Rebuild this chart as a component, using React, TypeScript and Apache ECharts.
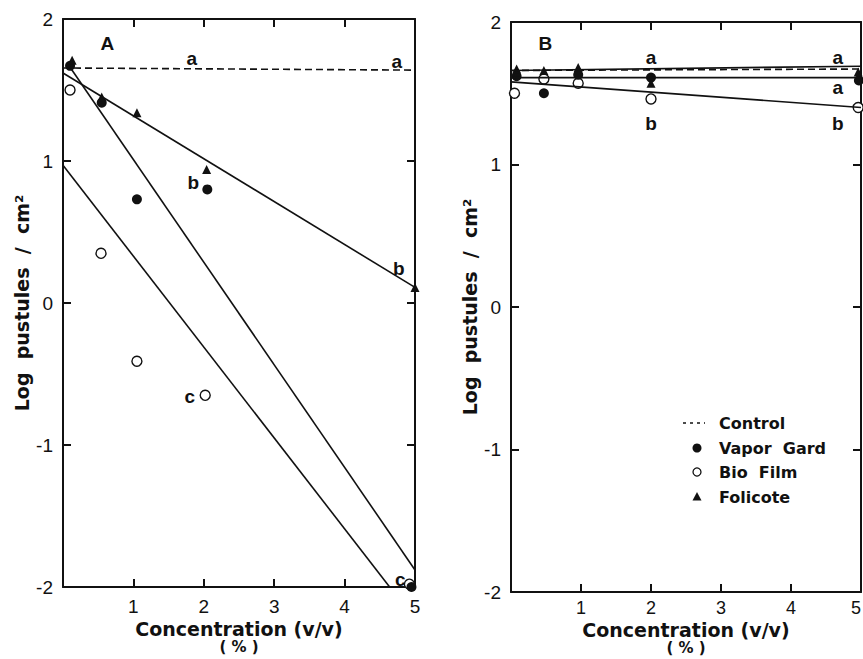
import React, { useEffect, useRef } from "react";
import * as echarts from "echarts";

// ---------- Panel A data ----------
const aVaporGard: [number, number][] = [[0.1, 1.67], [0.55, 1.41], [1.05, 0.73], [2.05, 0.8], [4.95, -2.0]];
const aBioFilm: [number, number][] = [[0.1, 1.5], [0.54, 0.35], [1.05, -0.41], [2.02, -0.65], [4.92, -1.98]];
const aFolicote: [number, number][] = [[0.13, 1.71], [0.55, 1.45], [1.05, 1.34], [2.04, 0.94], [5.0, 0.11]];
const aControlLine: [number, number][] = [[0, 1.655], [5, 1.64]];
const aVaporGardLine: [number, number][] = [[0.1, 1.66], [5, -1.88]];
const aBioFilmLine: [number, number][] = [[0, 0.97], [4.64, -2.0]];
const aFolicoteLine: [number, number][] = [[0, 1.62], [5, 0.11]];
const aLetters: [number, number, string][] = [
  [0.63, 1.83, "A"], [1.83, 1.72, "a"], [4.74, 1.7, "a"],
  [1.85, 0.85, "b"], [4.77, 0.24, "b"], [1.8, -0.66, "c"], [4.79, -1.95, "c"],
];

// ---------- Panel B data ----------
const bVaporGard: [number, number][] = [[0.08, 1.62], [0.47, 1.5], [0.96, 1.63], [2.0, 1.61], [4.97, 1.59]];
const bBioFilm: [number, number][] = [[0.05, 1.5], [0.47, 1.6], [0.96, 1.57], [2.0, 1.46], [4.96, 1.4]];
const bFolicote: [number, number][] = [[0.08, 1.67], [0.47, 1.66], [0.96, 1.68], [2.0, 1.57], [4.96, 1.65]];
const bControlLine: [number, number][] = [[0, 1.66], [5, 1.67]];
const bVaporGardLine: [number, number][] = [[0, 1.61], [5, 1.61]];
const bBioFilmLine: [number, number][] = [[0, 1.58], [5, 1.4]];
const bFolicoteLine: [number, number][] = [[0, 1.66], [5, 1.69]];
const bLetters: [number, number, string][] = [
  [0.49, 1.85, "B"], [2.0, 1.75, "a"], [2.0, 1.29, "b"],
  [4.67, 1.75, "a"], [4.67, 1.54, "a"], [4.67, 1.29, "b"],
];

const xTicks = [0, 5, 1];
const yTicks = [-2, 2, 1];
const legendNames = ["Control", "Vapor  Gard", "Bio  Film", "Folicote"];

const BLACK = "#111";
const NUM_FONT = "Liberation Sans";
const TXT_FONT = "DejaVu Sans";

function axesFor(gridIndex: number, alignLastRight: boolean, xNameGap: number, labelMargin: number, labelSize: number) {
  const common = {
    gridIndex,
    min: xTicks[0],
    max: xTicks[1],
    interval: xTicks[2],
    axisLine: { show: true, onZero: false, lineStyle: { color: BLACK, width: 2 } },
    axisTick: { show: true, inside: true, length: 8, lineStyle: { color: BLACK, width: 2 } },
    splitLine: { show: false },
  };
  const yCommon = {
    gridIndex,
    type: "value" as const,
    min: yTicks[0],
    max: yTicks[1],
    interval: yTicks[2],
    axisLine: { show: true, onZero: false, lineStyle: { color: BLACK, width: 2 } },
    axisTick: { show: true, inside: true, length: 8, lineStyle: { color: BLACK, width: 2 } },
    splitLine: { show: false },
  };
  return {
    x: [
      {
        ...common,
        type: "value" as const,
        position: "bottom",
        axisLabel: {
          margin: labelMargin,
          color: BLACK,
          fontFamily: NUM_FONT,
          fontSize: labelSize,
          alignMaxLabel: alignLastRight ? "right" : undefined,
          formatter: (v: number) => (v === 0 ? "" : String(v)),
        },
        name: "{t|Concentration (v/v)}\n{p|( % )}",
        nameLocation: "middle",
        nameGap: xNameGap,
        nameMoveOverlap: false,
        nameTextStyle: {
          color: BLACK,
          fontFamily: TXT_FONT,
          fontWeight: "bold",
          fontSize: 18,
          verticalAlign: "top",
          rich: {
            t: { fontFamily: TXT_FONT, fontWeight: "bold", fontSize: 19, lineHeight: 21, color: BLACK },
            p: { fontFamily: TXT_FONT, fontWeight: "bold", fontSize: 15, lineHeight: 16, color: BLACK },
          },
        },
      },
      { ...common, type: "value" as const, position: "top", axisLabel: { show: false } },
    ],
    y: [
      {
        ...yCommon,
        position: "left",
        axisLabel: { margin: 10, color: BLACK, fontFamily: NUM_FONT, fontSize: 19 },
        name: "Log  pustules  /  cm\u00B2",
        nameLocation: "middle",
        nameGap: 32,
        nameRotate: 90,
        nameTextStyle: {
          color: BLACK,
          fontFamily: TXT_FONT,
          fontWeight: "bold",
          fontSize: 19,
        },
      },
      { ...yCommon, position: "right", axisLabel: { show: false } },
    ],
  };
}

function panelSeries(
  xi: number,
  pts: { vg: [number, number][]; bf: [number, number][]; fo: [number, number][] },
  lines: { c: [number, number][]; vg: [number, number][]; bf: [number, number][]; fo: [number, number][] },
  letters: [number, number, string][]
) {
  const lineBase = {
    type: "line" as const,
    xAxisIndex: xi,
    yAxisIndex: xi,
    symbol: "none",
    silent: true,
    clip: true,
  };
  return [
    { ...lineBase, name: "Control", data: lines.c, lineStyle: { color: BLACK, width: 1.6, type: [7, 4] } },
    { ...lineBase, name: "VG line", data: lines.vg, lineStyle: { color: BLACK, width: 1.6 } },
    { ...lineBase, name: "BF line", data: lines.bf, lineStyle: { color: BLACK, width: 1.6 } },
    { ...lineBase, name: "FO line", data: lines.fo, lineStyle: { color: BLACK, width: 1.6 } },
    {
      type: "scatter" as const,
      name: "Bio Film",
      xAxisIndex: xi,
      yAxisIndex: xi,
      data: pts.bf,
      symbol: "circle",
      symbolSize: 10,
      itemStyle: { color: "#fff", borderColor: BLACK, borderWidth: 1.4, opacity: 1 },
      clip: false,
    },
    {
      type: "scatter" as const,
      name: "Vapor Gard",
      xAxisIndex: xi,
      yAxisIndex: xi,
      data: pts.vg,
      symbol: "circle",
      symbolSize: 10,
      itemStyle: { color: BLACK, opacity: 1 },
      clip: false,
    },
    {
      type: "scatter" as const,
      name: "Folicote",
      xAxisIndex: xi,
      yAxisIndex: xi,
      data: pts.fo,
      symbol: "triangle",
      symbolSize: [9, 9],
      itemStyle: { color: BLACK, opacity: 1 },
      clip: false,
    },
    {
      type: "scatter" as const,
      name: "letters",
      xAxisIndex: xi,
      yAxisIndex: xi,
      data: letters.map((l) => ({ value: [l[0], l[1]], name: l[2] })),
      symbolSize: 0,
      silent: true,
      clip: false,
      itemStyle: { opacity: 1 },
      label: {
        show: true,
        position: "inside",
        formatter: (p: any) => p.name,
        color: BLACK,
        fontFamily: NUM_FONT,
        fontWeight: "bold",
        fontSize: 19,
      },
    },
  ];
}

export default function App() {
  const ref = useRef<HTMLDivElement>(null);
  useEffect(() => {
    if (!ref.current) return;
    const chart = echarts.init(ref.current, undefined, { renderer: "svg" });
    const a = axesFor(0, false, 31, 10, 19);
    const b = axesFor(1, true, 27, 7, 18);
    const legendX = 697;
    const legendTextX = 719;
    const legendY = [423, 448, 472, 497];
    const legendFont = { fontFamily: TXT_FONT, fontWeight: "bold", fontSize: 16, fill: BLACK };
    chart.setOption({
      animation: false,
      backgroundColor: "#fff",
      grid: [
        { left: 63, right: 448, top: 19, bottom: 72, containLabel: false, outerBoundsMode: "none" },
        { left: 511, right: 2, top: 22, bottom: 67, containLabel: false, outerBoundsMode: "none" },
      ],
      xAxis: [...a.x, ...b.x],
      yAxis: [...a.y, ...b.y],
      series: [
        ...panelSeries(
          0,
          { vg: aVaporGard, bf: aBioFilm, fo: aFolicote },
          { c: aControlLine, vg: aVaporGardLine, bf: aBioFilmLine, fo: aFolicoteLine },
          aLetters
        ),
        ...panelSeries(
          2,
          { vg: bVaporGard, bf: bBioFilm, fo: bFolicote },
          { c: bControlLine, vg: bVaporGardLine, bf: bBioFilmLine, fo: bFolicoteLine },
          bLetters
        ),
      ],
      graphic: [
        {
          type: "line",
          shape: { x1: legendX - 14, y1: legendY[0], x2: legendX + 8, y2: legendY[0] },
          style: { stroke: BLACK, lineWidth: 1.5, lineDash: [3, 4] },
        },
        { type: "circle", shape: { cx: legendX, cy: legendY[1], r: 4.5 }, style: { fill: BLACK } },
        {
          type: "circle",
          shape: { cx: legendX, cy: legendY[2], r: 4 },
          style: { fill: "#fff", stroke: BLACK, lineWidth: 1.3 },
        },
        {
          type: "polygon",
          shape: { points: [[legendX, legendY[3] - 5], [legendX - 4.5, legendY[3] + 3.5], [legendX + 4.5, legendY[3] + 3.5]] },
          style: { fill: BLACK },
        },
        ...legendNames.map((n, i) => ({
          type: "text",
          x: legendTextX,
          y: legendY[i],
          style: { text: n, ...legendFont, textVerticalAlign: "middle", verticalAlign: "middle" },
        })),
      ],
    });
    return () => chart.dispose();
  }, []);
  return <div ref={ref} style={{ position: "fixed", left: 0, top: 0, width: 863, height: 659, background: "#fff" }} />;
}
